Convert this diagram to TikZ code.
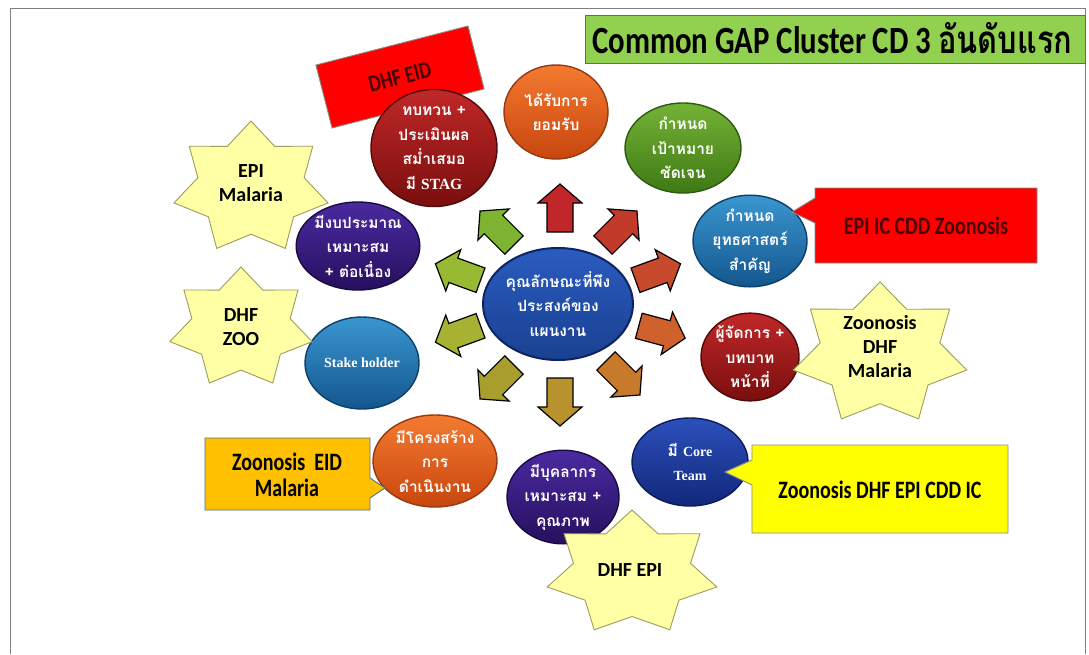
\documentclass[tikz,border=0pt]{standalone}
\usepackage{fontspec}
\setmainfont{Carlito}
\newfontfamily\lat{Carlito}
\newfontfamily\latS[FakeStretch=0.8]{Carlito}
\newfontfamily\thai[Script=Thai]{Loma}
\newfontfamily\thaiS[Script=Thai,FakeStretch=0.8]{Loma}
\newfontfamily\ser{Liberation Serif}
\usetikzlibrary{shapes.geometric}
\definecolor{tgreen}{HTML}{92D050}
\definecolor{calred}{HTML}{FF0000}
\definecolor{calyel}{HTML}{FFFF00}
\definecolor{calorg}{HTML}{FFC000}
\definecolor{starfill}{HTML}{FFFFA6}
\definecolor{starline}{HTML}{9C9C5C}
\definecolor{calline}{HTML}{8A8A8A}
\definecolor{darktxt}{HTML}{4A0000}
\definecolor{a1}{HTML}{C0262A}
\definecolor{a2}{HTML}{C23A2A}
\definecolor{a3}{HTML}{C84A2C}
\definecolor{a4}{HTML}{D0602C}
\definecolor{a5}{HTML}{C87A2C}
\definecolor{a6}{HTML}{B8922C}
\definecolor{a7}{HTML}{A89E2E}
\definecolor{a8}{HTML}{A8B232}
\definecolor{a9}{HTML}{98BA32}
\definecolor{a10}{HTML}{7EB432}
\tikzset{
  bub/.style={ellipse, inner sep=0pt, align=center, text=white, line width=1.4pt,
    font={\thai\bfseries\fontsize{15.5pt}{24.5pt}\selectfont}},
  bubdr/.style={bub, top color={rgb,255:red,192;green,40;blue,40}, bottom color={rgb,255:red,122;green,14;blue,14}, draw={rgb,255:red,80;green,10;blue,10}},
  bubor/.style={bub, top color={rgb,255:red,244;green,122;blue,48}, bottom color={rgb,255:red,200;green,70;blue,14}, draw={rgb,255:red,150;green,56;blue,16}},
  bubgr/.style={bub, top color={rgb,255:red,116;green,178;blue,54}, bottom color={rgb,255:red,62;green,122;blue,20}, draw={rgb,255:red,46;green,90;blue,16}},
  bubbl/.style={bub, top color={rgb,255:red,58;green,150;blue,208}, bottom color={rgb,255:red,20;green,86;blue,142}, draw={rgb,255:red,14;green,62;blue,106}},
  bubnv/.style={bub, top color={rgb,255:red,44;green,80;blue,188}, bottom color={rgb,255:red,18;green,40;blue,122}, draw={rgb,255:red,12;green,28;blue,88}},
  bubpu/.style={bub, top color={rgb,255:red,74;green,42;blue,160}, bottom color={rgb,255:red,38;green,16;blue,94}, draw={rgb,255:red,26;green,10;blue,68}},
  bubct/.style={bub, top color={rgb,255:red,42;green,92;blue,192}, bottom color={rgb,255:red,26;green,64;blue,144}, draw={rgb,255:red,14;green,36;blue,96}, line width=2pt},
  sertxt/.style={font={\ser\bfseries\fontsize{14pt}{24.5pt}\selectfont}},
  arrsty/.style={draw=black, line width=1.2pt, line join=miter},
  pics/bigarr/.style={code={\draw[arrsty, fill=#1] (-24,-13) -- (5,-13) -- (5,-22) -- (24,0) -- (5,22) -- (5,13) -- (-24,13) -- cycle;}},
  starsty/.style={draw=starline, fill=starfill, line width=0.9pt},
  startxt/.style={align=center, text=black, font={\lat\bfseries\fontsize{20pt}{24pt}\selectfont}},
  callsty/.style={draw=calline, line width=0.9pt},
  calltxt/.style={align=center, font={\latS\bfseries\fontsize{25pt}{26pt}\selectfont}},
}
\newcommand\sevstar[4]{%
  \draw[starsty] plot[samples at={0,1,...,13}, variable=\k]
    ({#1+#3*(1-0.31*mod(\k,2))*cos(90+\k*25.7143)},{#2-#4*(1-0.31*mod(\k,2))*sin(90+\k*25.7143)}) -- cycle;}
\begin{document}
\begin{tikzpicture}[x=1pt,y=-1pt]
\useasboundingbox (0,0) rectangle (1089,654);
\fill[white] (0,0) rectangle (1089,654);
% frame
\draw[gray, line width=0.8pt] (10,654) -- (10,8) -- (1085,8) -- (1085,654);
% title
\node[draw={rgb,255:red,90;green,110;blue,120}, fill=tgreen, line width=0.8pt, minimum width=500pt, minimum height=48pt, anchor=north west, inner sep=0pt] (titlebox) at (585,15) {};
\node[anchor=base west, inner sep=0pt, font={\bfseries\fontsize{38.5pt}{40pt}\selectfont}] (title) at (592,53) {{\latS Common GAP Cluster CD 3 }{\thaiS อันดับแรก}};
% DHF EID box
\node[draw=calline, fill=calred, line width=0.9pt, rotate=14.4, minimum width=157pt, minimum height=65pt, inner sep=0pt, text=darktxt, font={\latS\bfseries\fontsize{24pt}{26pt}\selectfont}] (dhfeid) at (400,77) {DHF~EID};
% arrows
\pic[rotate=90]  at (560,208) {bigarr=a1};
\pic[rotate=45]  at (620,228) {bigarr=a2};
\pic[rotate=20]  at (658,272) {bigarr=a3};
\pic[rotate=-15] at (662,332) {bigarr=a4};
\pic[rotate=-45] at (623,378) {bigarr=a5};
\pic[rotate=-90] at (560,402) {bigarr=a6};
\pic[rotate=-135] at (497,382) {bigarr=a7};
\pic[rotate=200] at (458,334) {bigarr=a8};
\pic[rotate=160] at (458,272) {bigarr=a9};
\pic[rotate=135] at (497,228) {bigarr=a10};
% bubbles
\node[bubct, minimum width=150pt, minimum height=112pt] (center) at (558,304) {คุณลักษณะที่พึง\\ประสงค์ของ\\แผนงาน};
\node[bubdr, minimum width=126pt, minimum height=96pt] (review) at (434,148) {ทบทวน +\\ประเมินผล\\สม่ำเสมอ\\มี {\ser\bfseries STAG}};
\node[bubor, minimum width=104pt, minimum height=94pt] (accept) at (556,112) {ได้รับการ\\ยอมรับ};
\node[bubgr, minimum width=116pt, minimum height=90pt] (goal) at (683,148) {กำหนด\\เป้าหมาย\\ชัดเจน};
\node[bubbl, minimum width=114pt, minimum height=88pt] (strat) at (750,241) {กำหนด\\ยุทธศาสตร์\\สำคัญ};
\node[bubdr, minimum width=98pt, minimum height=86pt] (manager) at (750,357) {ผู้จัดการ +\\บทบาท\\หน้าที่};
\node[bubnv, minimum width=116pt, minimum height=88pt] (core) at (690,462) {มี {\ser\bfseries\fontsize{14pt}{24.5pt}\selectfont Core}\\{\ser\bfseries\fontsize{14pt}{24.5pt}\selectfont Team}};
\node[bubpu, minimum width=112pt, minimum height=92pt] (staff) at (563,497) {มีบุคลากร\\เหมาะสม +\\คุณภาพ};
\node[bubor, minimum width=124pt, minimum height=92pt] (struct) at (435,461) {มีโครงสร้าง\\การ\\ดำเนินงาน};
\node[bubbl, minimum width=114pt, minimum height=92pt, sertxt] (stake) at (362,363) {Stake holder};
\node[bubpu, minimum width=122pt, minimum height=88pt] (budget) at (358,246) {มีงบประมาณ\\เหมาะสม\\+ ต่อเนื่อง};
% stars
\sevstar{251}{188}{79}{67}
\node[startxt] (s1) at (251,183) {EPI\\Malaria};
\sevstar{241}{328}{73}{61}
\node[startxt] (s2) at (241,327) {DHF\\ZOO};
\sevstar{880}{354}{89}{72}
\node[startxt] (s3) at (880,347) {Zoonosis\\DHF\\Malaria};
\sevstar{632}{573}{87}{63}
\node[startxt] (s4) at (630,570) {DHF EPI};
% rectangular callouts
\draw[callsty, fill=calred] (815,188) -- (1037,188) -- (1037,263) -- (815,263) -- (815,223) -- (792,212) -- (815,198) -- cycle;
\node[calltxt, text=darktxt] (c1) at (926,226) {EPI IC CDD Zoonosis};
\draw[callsty, fill=calyel] (752,445) -- (1008,445) -- (1008,533) -- (752,533) -- (752,485) -- (725,472) -- (752,460) -- cycle;
\node[calltxt] (c2) at (880,490) {Zoonosis DHF EPI CDD IC};
\draw[callsty, draw={rgb,255:red,80;green,110;blue,140}, fill=calorg] (205,438) -- (370,438) -- (370,478) -- (385,488) -- (370,498) -- (370,510) -- (205,510) -- cycle;
\node[calltxt] (c3) at (287,475) {Zoonosis\ \ EID\\Malaria};
\end{tikzpicture}
\end{document}
